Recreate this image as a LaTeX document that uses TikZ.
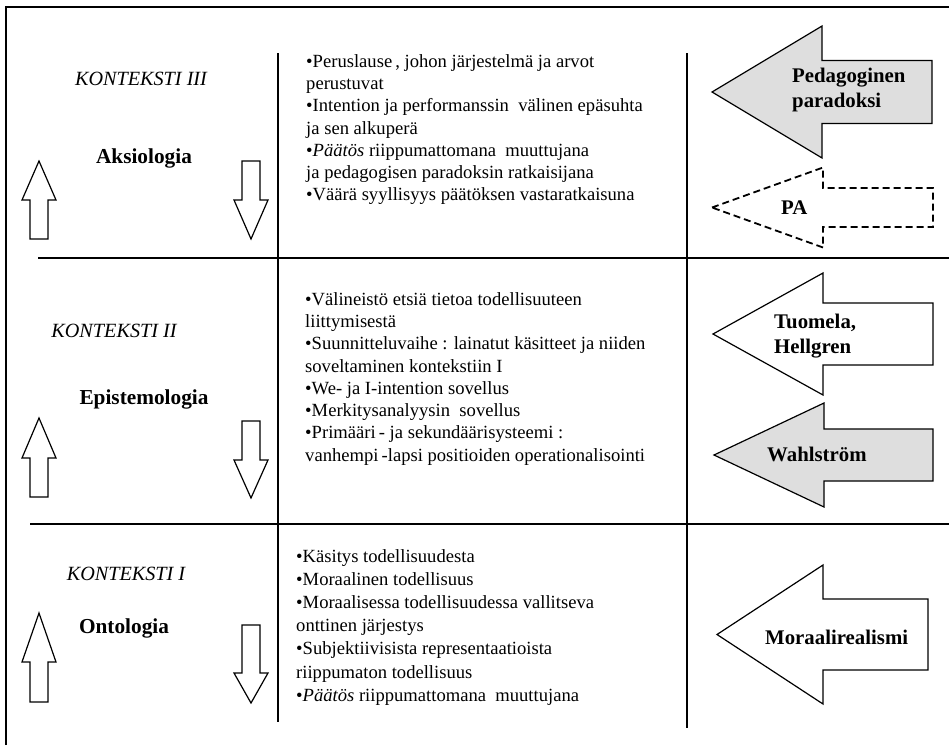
\documentclass[tikz,border=0pt]{standalone}
\usepackage{fontspec}
\setmainfont{Liberation Serif}
\usepackage{xcolor}
\usepackage{tikz}
\definecolor{shade}{gray}{0.87}

% left pointing block arrow: style, tip x, mid y, head x, head half, shaft half, end x
\newcommand{\leftblock}[7]{%
  \draw[#1] (#2,#3) -- (#4,#3-#5) -- (#4,#3-#6) -- (#7,#3-#6)
    -- (#7,#3+#6) -- (#4,#3+#6) -- (#4,#3+#5) -- cycle;}
% vertical block arrow: x, tip y, head y, tail y
\newcommand{\vblock}[4]{%
  \draw[blockarr] (#1,#2) -- (#1+17,#3) -- (#1+9,#3) -- (#1+9,#4)
    -- (#1-9,#4) -- (#1-9,#3) -- (#1-17,#3) -- cycle;}

\begin{document}
\begin{tikzpicture}[x=1pt, y=-1pt,
    rule/.style={line width=1.6pt},
    blockarr/.style={draw, line width=1.2pt, fill=white},
    grayarr/.style={blockarr, fill=shade},
    dasharr/.style={draw, line width=1.8pt, dash pattern=on 7pt off 4pt},
    ctx/.style={font=\fontsize{20.2}{24}\selectfont\itshape, anchor=base},
    field/.style={font=\fontsize{21.3}{25}\selectfont\bfseries, anchor=base},
    items/.style={font=\fontsize{18.6}{22.3}\selectfont, align=left, anchor=north west, inner sep=0pt},
    tag/.style={font=\fontsize{20.8}{25}\selectfont\bfseries, align=left, anchor=west, inner sep=0pt}]
    \useasboundingbox (0,0) rectangle (949,745);

    % frame and grid
    \draw[rule] (6,745) -- (6,7) -- (949,7);
    \draw[rule] (278,53) -- (278,722);
    \draw[rule] (687,53) -- (687,728);
    \draw[rule] (38,258) -- (949,258);
    \draw[rule] (30,524) -- (949,524);

    % context III
    \node[ctx] (k3) at (141,85) {KONTEKSTI III};
    \node[field] (aks) at (144,163) {Aksiologia};
    \vblock{39}{161}{200}{239}
    \vblock{251}{239}{200}{161}
    \node[items] (list3) at (306,54) {•Peruslause\,, johon järjestelmä ja arvot\\
      perustuvat\\
      •Intention ja performanssin\ \ välinen epäsuhta\\
      ja sen alkuperä\\
      •\textit{Päätös} riippumattomana\ \ muuttujana\\
      ja pedagogisen paradoksin ratkaisijana\\
      •Väärä syyllisyys päätöksen vastaratkaisuna};
    \leftblock{grayarr}{712}{92}{822}{66}{31.5}{932}
    \node[tag] (ped) at (792,90) {Pedagoginen\\paradoksi};
    \leftblock{dasharr}{712}{207.5}{823}{40}{19.5}{933}
    \node[tag] (pa) at (781,208) {PA};

    % context II
    \node[ctx] (k2) at (114,337) {KONTEKSTI II};
    \node[field] (epi) at (144,404) {Epistemologia};
    \vblock{39}{418}{458}{497}
    \vblock{251}{498}{460}{421}
    \node[items] (list2) at (305,292) {•Välineistö etsiä tietoa todellisuuteen\\
      liittymisestä\\
      •Suunnitteluvaihe : lainatut käsitteet ja niiden\\
      soveltaminen kontekstiin I\\
      •We- ja I-intention sovellus\\
      •Merkitysanalyysin\ \ sovellus\\
      •Primääri\,- ja sekundäärisysteemi :\\
      vanhempi\,-lapsi positioiden operationalisointi};
    \leftblock{blockarr}{713}{334}{823}{61}{31}{933}
    \node[tag] (tuo) at (774,336) {Tuomela,\\Hellgren};
    \leftblock{grayarr}{714}{455}{824}{52}{26}{933}
    \node[tag] (wah) at (767,454) {Wahlström};

    % context I
    \node[ctx] (k1) at (126,580) {KONTEKSTI I};
    \node[field] (ont) at (124,633) {Ontologia};
    \vblock{39}{613}{662}{702}
    \vblock{251}{703}{673}{625}
    \node[items, font=\fontsize{18.6}{23.2}\selectfont] (list1) at (296,549) {•Käsitys todellisuudesta\\
      •Moraalinen todellisuus\\
      •Moraalisessa todellisuudessa vallitseva\\
      onttinen järjestys\\
      •Subjektiivisista representaatioista\\
      riippumaton todellisuus\\
      •\textit{Päätös} riippumattomana\ \ muuttujana};
    \leftblock{blockarr}{717}{634.5}{823}{69.5}{35.5}{928}
    \node[tag] (mor) at (765,637) {Moraalirealismi};
\end{tikzpicture}
\end{document}
